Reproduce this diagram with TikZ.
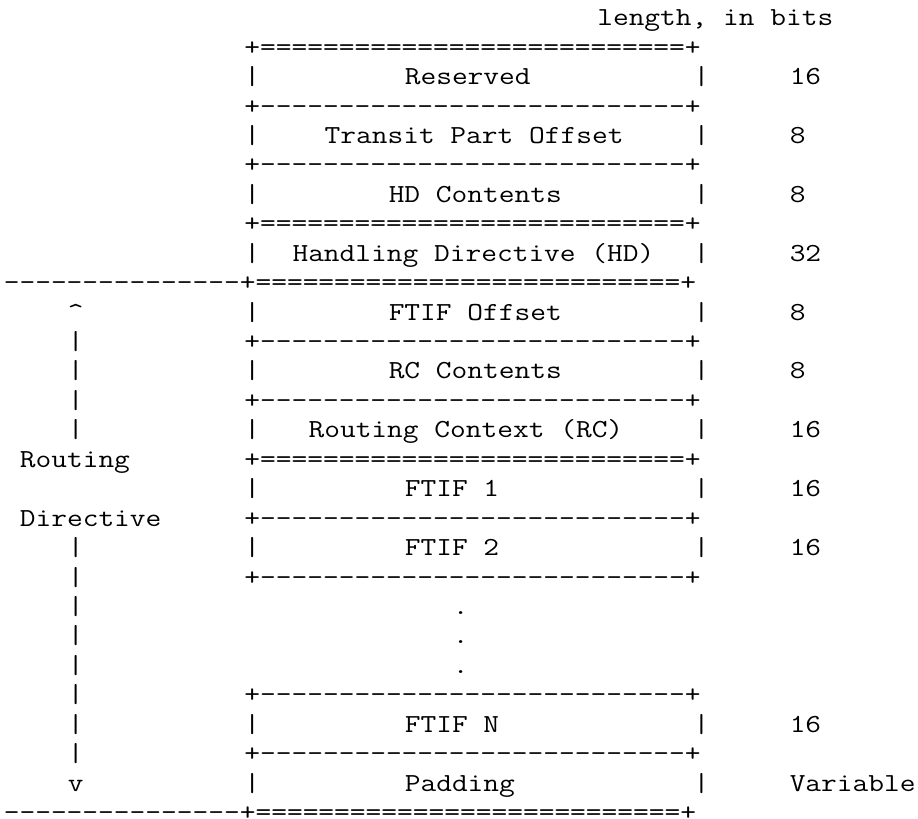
\documentclass[tikz,border=0pt]{standalone}
\newcommand\rep[2]{\foreach \k in {1,...,#1}{#2}}
\newcommand\wide[1]{\scalebox{1.1751}[1]{#1}}

\begin{document}
\begin{tikzpicture}[x=8.02pt, y=-14.715pt,
    txt/.style = {anchor=base west, inner sep=0pt, font=\ttfamily\fontsize{13}{13}\selectfont}]
  \useasboundingbox (-1.7pt,-1.8pt) rectangle (457.3pt,-411.3pt);
  \node[txt] (len) at (37,1) {\wide{length, in bits}};
  % heavy separators
  \foreach \r in {2,8,16} \node[txt] (eq\r) at (15,\r) {\wide{+\rep{27}{=}+}};
  \foreach \r in {10,28} \node[txt] (eq\r) at (0,\r) {\wide{\rep{15}{-}+\rep{27}{=}+}};
  % light separators
  \foreach \r in {4,6,12,14,18,20,24,26} \node[txt] (sep\r) at (15,\r) {\wide{+\rep{27}{-}+}};
  % fields and their length
  \foreach \r/\c/\t/\n in {3/25/Reserved/16, 5/20/Transit Part Offset/8, 7/24/HD Contents/8,
      9/18/Handling Directive (HD)/32, 11/24/FTIF Offset/8, 13/24/RC Contents/8,
      15/19/Routing Context (RC)/16, 17/25/FTIF 1/16, 19/25/FTIF 2/16,
      25/25/FTIF N/16, 27/25/Padding/Variable} {
    \node[txt] (lb\r) at (15,\r) {\wide{|}};
    \node[txt] (f\r) at (\c,\r) {\wide{\t}};
    \node[txt] (rb\r) at (43,\r) {\wide{|}};
    \node[txt] (n\r) at (49,\r) {\wide{\n}};
  }
  \foreach \r in {21,22,23} \node[txt] (dot\r) at (28,\r) {\wide{.}};
  % routing directive span
  \node[txt] (up) at (4,11) {\wide{\textasciicircum}};
  \foreach \r in {12,13,14,15,19,20,21,22,23,24,25,26} \node[txt] (bar\r) at (4,\r) {\wide{|}};
  \node[txt] (down) at (4,27) {\wide{v}};
  \node[txt] (rd1) at (1,16) {\wide{Routing}};
  \node[txt] (rd2) at (1,18) {\wide{Directive}};
\end{tikzpicture}
\end{document}
